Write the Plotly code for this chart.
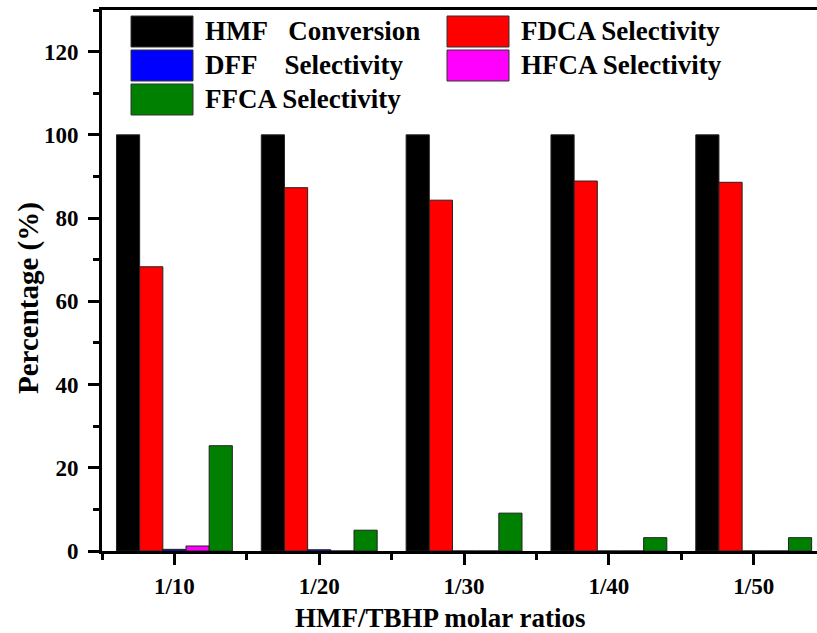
import plotly.graph_objects as go

ratios = ["1/10", "1/20", "1/30", "1/40", "1/50"]
hmf_conversion = [100, 100, 100, 100, 100]
fdca_selectivity = [68.3, 87.3, 84.3, 88.9, 88.6]
dff_selectivity = [0.4, 0.3, 0, 0, 0]
hfca_selectivity = [1.2, 0, 0, 0, 0]
ffca_selectivity = [25.3, 5.0, 9.1, 3.2, 3.2]

series_names = ["HMF\u00a0\u00a0\u00a0Conversion", "FDCA Selectivity",
                "DFF\u00a0\u00a0\u00a0\u00a0Selectivity", "HFCA Selectivity",
                "FFCA Selectivity"]
series_values = [hmf_conversion, fdca_selectivity, dff_selectivity,
                 hfca_selectivity, ffca_selectivity]
bar_order = [0, 1, 2, 3, 4]
colors = ["#000000", "#FF0000", "#0000FF", "#FF00FF", "#008000"]

FONT = "Liberation Serif"
W, H = 817, 633
ML, MR, MT, MB = 102, 0, 10, 82
PW, PH = W - ML - MR, H - MT - MB

fig = go.Figure()
xpos = list(range(len(ratios)))
for i in bar_order:
    fig.add_trace(go.Bar(
        x=xpos, y=series_values[i], name=series_names[i],
        marker=dict(color=colors[i], line=dict(color="#222222", width=1)),
        showlegend=False,
    ))

# custom legend (large swatches like the original)
leg_cols = [131, 447]
leg_rows = [16, 50, 84]
sw_w, sw_h = 62, 31
legend_layout = [(0, 0, 0), (1, 0, 1), (2, 1, 0), (3, 1, 1), (4, 2, 0)]
for idx, row, col in legend_layout:
    x0 = leg_cols[col]
    y0 = leg_rows[row]
    fig.add_shape(type="rect", xref="paper", yref="paper",
                  x0=(x0 - ML) / PW, x1=(x0 + sw_w - ML) / PW,
                  y0=1 - (y0 - MT) / PH, y1=1 - (y0 + sw_h - MT) / PH,
                  fillcolor=colors[idx], line=dict(color="#333333", width=1))
    fig.add_annotation(xref="paper", yref="paper",
                       x=(x0 + sw_w + 10 - ML) / PW,
                       y=1 - (y0 + sw_h / 2 - MT) / PH,
                       xanchor="left", yanchor="middle", showarrow=False,
                       text="<b>%s</b>" % series_names[idx],
                       font=dict(family=FONT, size=27, color="black"))

# axis titles
fig.add_annotation(xref="paper", yref="paper",
                   x=(440 - ML) / PW, y=1 - (618 - MT) / PH,
                   xanchor="center", yanchor="middle", showarrow=False,
                   text="<b>HMF/TBHP molar ratios</b>",
                   font=dict(family=FONT, size=27, color="black"))
fig.add_annotation(xref="paper", yref="paper",
                   x=(28 - ML) / PW, y=1 - (298 - MT) / PH,
                   xanchor="center", yanchor="middle", showarrow=False, textangle=-90,
                   text="<b>Percentage (%)</b>",
                   font=dict(family=FONT, size=29, color="black"))

tick_font = dict(family=FONT, size=23, color="black")

fig.update_layout(
    width=W, height=H,
    margin=dict(l=ML, r=MR, t=MT, b=MB, pad=0),
    paper_bgcolor="white", plot_bgcolor="white",
    barmode="group", bargap=0.2, bargroupgap=0,
    font=dict(family=FONT, size=23, color="black"),
    xaxis=dict(
        range=[-0.5, 4.437], tickmode="array", tickvals=xpos,
        ticktext=["<b>%s</b>" % r for r in ratios],
        showline=True, linecolor="black", linewidth=3, mirror=True,
        ticks="outside", ticklen=11, tickwidth=2.5, tickcolor="black",
        minor=dict(tickmode="array", tickvals=[v - 0.5 for v in xpos] + [len(xpos) - 0.5],
                   ticks="outside", ticklen=6, tickwidth=2.5, tickcolor="black"),
        showgrid=False, zeroline=False,
        tickfont=tick_font,
        ticklabelstandoff=1,
    ),
    yaxis=dict(
        range=[0, 130], tickmode="array", tickvals=[0, 20, 40, 60, 80, 100, 120],
        ticktext=["<b>%d</b>" % v for v in [0, 20, 40, 60, 80, 100, 120]],
        showline=True, linecolor="black", linewidth=3, mirror=False,
        ticks="outside", ticklen=11, tickwidth=2.5, tickcolor="black",
        minor=dict(tickmode="array", tickvals=[10, 30, 50, 70, 90, 110, 130],
                   ticks="outside", ticklen=6, tickwidth=2.5, tickcolor="black"),
        showgrid=False, zeroline=False,
        tickfont=tick_font,
        ticklabelstandoff=5,
    ),
)

fig.write_html("out.html")
